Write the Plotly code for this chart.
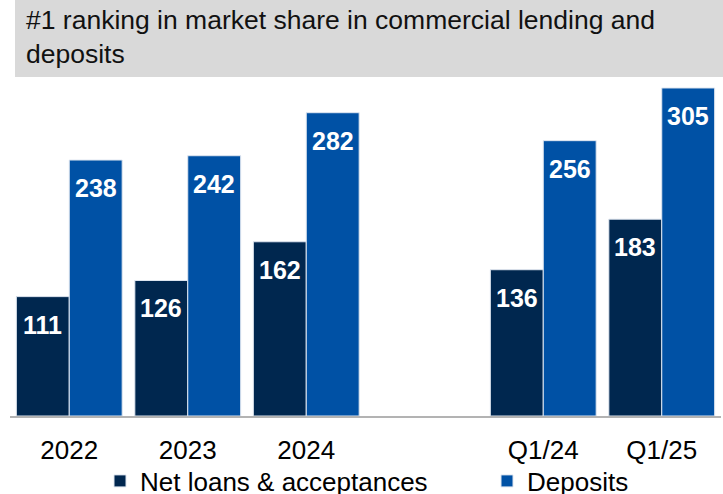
import plotly.graph_objects as go

# Reporting periods; the blank entry leaves a gap between annual and quarterly figures
periods = ["2022", "2023", "2024", " ", "Q1/24", "Q1/25"]
net_loans = [111, 126, 162, None, 136, 183]
deposits = [238, 242, 282, None, 256, 305]

title_text = "#1 ranking in market share in commercial lending and<br>deposits"
series_names = ["Net loans & acceptances", "Deposits"]

NAVY = "#00274f"
BLUE = "#0051a5"
FONT = "Liberation Sans, Arial, sans-serif"

W, H = 723, 494
ML, MR, MT, MB = 10, 2, 78, 78
plot_w = W - ML - MR
plot_h = H - MT - MB


def px_x(p):
    return (p - ML) / plot_w


def px_y(p):
    return (H - MB - p) / plot_h


fig = go.Figure()
fig.add_trace(go.Bar(x=periods, y=net_loans, name=series_names[0], legend="legend",
                     marker=dict(color=NAVY, line=dict(color="#dfe6f0", width=1))))
fig.add_trace(go.Bar(x=periods, y=deposits, name=series_names[1], legend="legend2",
                     marker=dict(color=BLUE, line=dict(color="#dfe6f0", width=1))))

# Value labels sit just below the top of each bar
annotations = []
for series, shift in ((net_loans, -26.5), (deposits, 26.5)):
    for i, v in enumerate(series):
        if v is None:
            continue
        annotations.append(dict(x=i, y=v, xref="x", yref="y", text=f"<b>{v}</b>",
                                showarrow=False, xshift=shift, yshift=-28,
                                yanchor="middle", xanchor="center",
                                font=dict(family=FONT, size=25, color="white")))

# Heading text on the grey band
annotations.append(dict(x=px_x(24), y=px_y(3), xref="paper", yref="paper",
                        text=title_text, showarrow=False,
                        xanchor="left", yanchor="top", align="left",
                        font=dict(family=FONT, size=26.5, color="#111111")))

legend_style = dict(orientation="h", xanchor="left", yanchor="middle", y=px_y(481),
                    font=dict(family=FONT, size=26, color="black"),
                    itemclick=False, bgcolor="rgba(0,0,0,0)")

fig.update_layout(
    width=W, height=H,
    margin=dict(l=ML, r=MR, t=MT, b=MB, autoexpand=False),
    paper_bgcolor="white", plot_bgcolor="white",
    barmode="group", bargap=0.107, bargroupgap=0,
    font=dict(family=FONT, size=26, color="black"),
    showlegend=True,
    legend=dict(x=px_x(100), **legend_style),
    legend2=dict(x=px_x(487), **legend_style),
    xaxis=dict(type="category", categoryorder="array", categoryarray=periods,
               range=[-0.5, len(periods) - 0.5],
               showgrid=False, showline=True, linecolor="#b3b3b3",
               linewidth=2, ticks="", ticklabelstandoff=10,
               tickfont=dict(family=FONT, size=26, color="black")),
    yaxis=dict(visible=False, range=[0, plot_h / 1.0755]),
    shapes=[dict(type="rect", xref="paper", yref="paper",
                 x0=px_x(15), x1=px_x(W), y0=px_y(77), y1=px_y(0),
                 fillcolor="#d9d9d9", line=dict(width=0), layer="below")],
    annotations=annotations,
)

fig.write_html("out.html")
